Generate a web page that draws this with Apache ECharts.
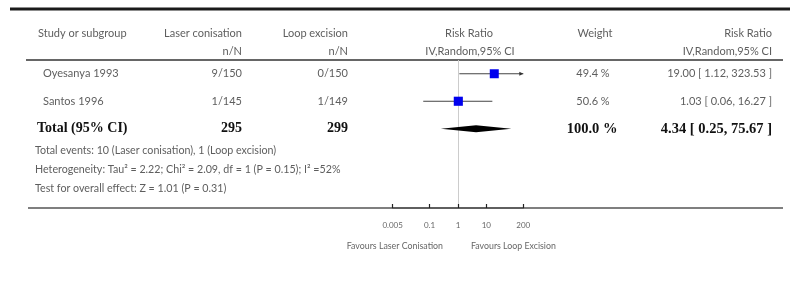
<!DOCTYPE html>
<html><head><meta charset="utf-8">
<script src="https://cdn.jsdelivr.net/npm/echarts@6/dist/echarts.min.js"></script>
<style>html,body{margin:0;padding:0;background:#fff}#c{width:790px;height:292px}</style>
</head><body><div id="c"></div>
<script>
// ---- data ----
const studies = ['Oyesanya 1993', 'Santos 1996'];
const laserNN = ['9/150', '1/145'];
const loopNN = ['0/150', '1/149'];
const rr = [19.00, 1.03];
const rrLow = [1.12, 0.06];
const rrHigh = [323.53, 16.27];
const weights = [49.4, 50.6];
const totalLabel = 'Total (95% CI)';
const totalLaserN = '295';
const totalLoopN = '299';
const totalRR = 4.34, totalLow = 0.25, totalHigh = 75.67;
const totalWeight = '100.0 %';
const totalRRText = '4.34 [ 0.25, 75.67 ]';
const rrTexts = ['19.00 [ 1.12, 323.53 ]', '1.03 [ 0.06, 16.27 ]'];
const tickValues = [0.005, 0.1, 1, 10, 200];
const tickLabels = ['0.005', '0.1', '1', '10', '200'];
const footnotes = [
  'Total events: 10 (Laser conisation), 1 (Loop excision)',
  'Heterogeneity: Tau\u00b2 = 2.22; Chi\u00b2 = 2.09, df = 1 (P = 0.15); I\u00b2 =52%',
  'Test for overall effect: Z = 1.01 (P = 0.31)'
];
const headers1 = ['Study or subgroup', 'Laser conisation', 'Loop excision', 'Risk Ratio', 'Weight', 'Risk Ratio'];
const headers2 = ['n/N', 'n/N', 'IV,Random,95% CI', 'IV,Random,95% CI'];
const favours = ['Favours Laser Conisation', 'Favours Loop Excision'];

// ---- layout ----
const X_MIN = 0.005, X_MAX = 200;
const gridTop = 60, gridBottomY = 208, gridLeft = 392.6, gridRight = 523.3;
const rowStep = 27.5;
const FONT = 'Lato, "Open Sans", sans-serif';
const TXT = '#5e5e5e';

const chart = echarts.init(document.getElementById('c'), null, {renderer: 'canvas'});

const ciData = studies.map((s, i) => [rrLow[i], rrHigh[i], rr[i], i]);
const ptData = studies.map((s, i) => [rr[i], i, weights[i]]);
const totalRow = studies.length;

chart.setOption({
  animation: false,
  grid: {left: gridLeft, width: gridRight - gridLeft, top: gridTop, height: gridBottomY - gridTop},
  xAxis: {
    type: 'log', logBase: 10, min: X_MIN, max: X_MAX, position: 'bottom', z: 10,
    axisLine: {show: true, onZero: false, lineStyle: {color: '#555', width: 1.5}},
    splitLine: {show: false},
    axisTick: {show: true, inside: true, length: 4, customValues: tickValues, lineStyle: {color: '#222', width: 1.2}},
    axisLabel: {
      customValues: tickValues, margin: 13, color: '#666', fontSize: 8, fontFamily: FONT,
      formatter: v => {
        for (let k = 0; k < tickValues.length; k++) if (Math.abs(Math.log10(tickValues[k]) - Math.log10(v)) < 1e-6) return tickLabels[k];
        return '';
      }
    }
  },
  yAxis: {type: 'value', inverse: true, min: -0.5, max: (gridBottomY - gridTop) / rowStep - 0.5, show: false},
  series: [
    {
      type: 'custom', z: 2,
      renderItem: (params, api) => {
        const lo = api.value(0), hi = api.value(1), row = api.value(3);
        const p0 = api.coord([Math.max(lo, X_MIN), row]);
        const p1 = api.coord([Math.min(hi, X_MAX), row]);
        const children = [{type: 'line', shape: {x1: p0[0], y1: p0[1], x2: p1[0], y2: p1[1]}, style: {stroke: '#444', lineWidth: 1}}];
        if (hi > X_MAX) {
          children.push({type: 'polygon', shape: {points: [[p1[0], p1[1]], [p1[0] - 4, p1[1] - 2], [p1[0] - 4, p1[1] + 2]]}, style: {fill: '#333'}});
        }
        return {type: 'group', children};
      },
      data: ciData
    },
    {
      type: 'scatter', z: 3, symbol: 'rect',
      symbolSize: v => Math.sqrt(v[2]) * 1.28,
      itemStyle: {color: '#0000ee', opacity: 1},
      data: ptData,
      markLine: {
        silent: true, symbol: 'none', z: 1,
        lineStyle: {color: '#cccccc', type: 'solid', width: 1},
        label: {show: false},
        data: [{xAxis: 1}]
      }
    },
    {
      type: 'custom', z: 3,
      renderItem: (params, api) => {
        const row = api.value(3);
        const a = api.coord([api.value(0), row]);
        const b = api.coord([api.value(2), row]);
        const c = api.coord([api.value(1), row]);
        const h = 3.5;
        return {type: 'polygon', shape: {points: [[a[0], a[1]], [b[0], b[1] - h], [c[0], c[1]], [b[0], b[1] + h]]}, style: {fill: '#000'}};
      },
      data: [[totalLow, totalHigh, totalRR, totalRow]]
    }
  ]
});

function rowY(i) { return chart.convertToPixel({gridIndex: 0}, [1, i])[1]; }
function t(text, x, y, align, opts) {
  return {type: 'text', x: x, y: y, silent: true, style: Object.assign({text: text, fill: TXT, font: '11px ' + FONT, align: align, verticalAlign: 'middle'}, opts || {})};
}
const g = [];
g.push({type: 'line', z: -1, shape: {x1: 10, y1: 9, x2: 790, y2: 9}, style: {stroke: '#1a1a1a', lineWidth: 3}});
g.push({type: 'line', z: -1, shape: {x1: 26, y1: gridTop, x2: 783, y2: gridTop}, style: {stroke: '#333', lineWidth: 1.5}});
g.push({type: 'line', z: -1, shape: {x1: 28, y1: gridBottomY, x2: 783, y2: gridBottomY}, style: {stroke: '#555', lineWidth: 1.5}});
const h1y = 33, h2y = 51;
g.push(t(headers1[0], 38, h1y, 'left'));
g.push(t(headers1[1], 242, h1y, 'right'));
g.push(t(headers1[2], 348, h1y, 'right'));
g.push(t(headers1[3], 469, h1y, 'center'));
g.push(t(headers1[4], 595, h1y, 'center'));
g.push(t(headers1[5], 772, h1y, 'right'));
g.push(t(headers2[0], 242, h2y, 'right'));
g.push(t(headers2[1], 348, h2y, 'right'));
g.push(t(headers2[2], 470, h2y, 'center'));
g.push(t(headers2[3], 772, h2y, 'right'));
studies.forEach((s, i) => {
  const y = rowY(i);
  g.push(t(s, 43, y, 'left'));
  g.push(t(laserNN[i], 242, y, 'right'));
  g.push(t(loopNN[i], 348, y, 'right'));
  g.push(t(weights[i].toFixed(1) + ' %', 593, y, 'center'));
  g.push(t(rrTexts[i], 772, y, 'right'));
});
const ty = rowY(totalRow);
const bold = {font: 'bold 14px "Liberation Serif", "Times New Roman", serif', fill: '#111'};
g.push(t(totalLabel, 37, ty, 'left', bold));
g.push(t(totalLaserN, 242, ty, 'right', bold));
g.push(t(totalLoopN, 348, ty, 'right', bold));
g.push(t(totalWeight, 592, ty, 'center', {font: 'bold 14.5px "Liberation Serif", "Times New Roman", serif', fill: '#111'}));
g.push(t(totalRRText, 772, ty, 'right', {font: 'bold 14.5px "Liberation Serif", "Times New Roman", serif', fill: '#111'}));
const fy = [151, 170, 189];
footnotes.forEach((f, i) => g.push(t(f, 35, fy[i], 'left', {font: '10.7px ' + FONT})));
const x1 = chart.convertToPixel({gridIndex: 0}, [1, 0])[0];
g.push(t(favours[0], x1 - 15, 246, 'right', {font: '8.8px ' + FONT, fill: '#666'}));
g.push(t(favours[1], x1 + 13, 246, 'left', {font: '8.8px ' + FONT, fill: '#666'}));
chart.setOption({graphic: {elements: g}});
</script>
</body></html>
